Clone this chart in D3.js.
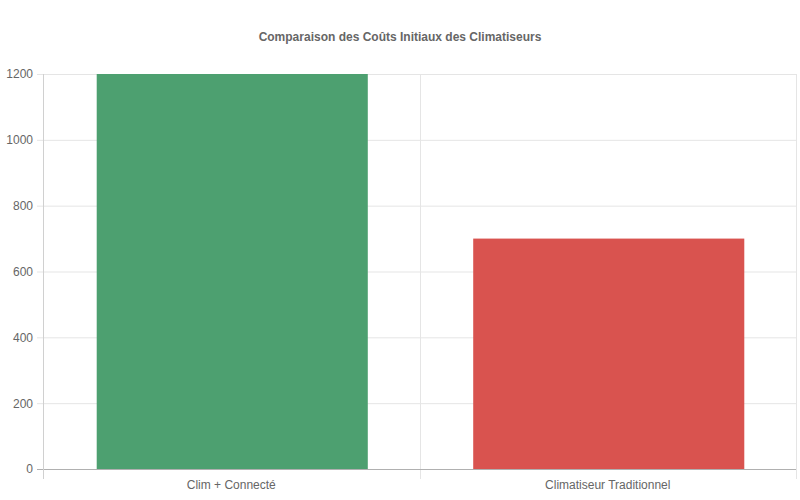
<!DOCTYPE html>
<meta charset="utf-8">
<style>
  body { margin: 0; background: #fff; font-family: "Liberation Sans", Arial, sans-serif; }
  .grid line { stroke: #e5e5e5; stroke-width: 1; }
  .axis text { fill: #666; font-size: 12px; }
  path.domain { display: none; }
</style>
<body>
<script src="https://cdnjs.cloudflare.com/ajax/libs/d3/7.8.5/d3.min.js"></script>
<script>

var categories = ["Clim + Connecté", "Climatiseur Traditionnel"];
var costs = [1200, 700];
var barColors = ["#4da070", "#d9534f"];
var yTicks = [0, 200, 400, 600, 800, 1000, 1200];

var margin = {top: 74, right: 4, bottom: 31, left: 43};
var W = 800, H = 500;
var w = W - margin.left - margin.right,
    h = H - margin.top - margin.bottom;

var svg = d3.select("body").append("svg")
    .attr("width", W)
    .attr("height", H);

svg.append("text")
    .attr("x", W / 2)
    .attr("y", 41)
    .attr("text-anchor", "middle")
    .style("font-size", "12px")
    .style("font-weight", "bold")
    .style("fill", "#666")
    .text("Comparaison des Coûts Initiaux des Climatiseurs");

var g = svg.append("g")
    .attr("transform", "translate(" + margin.left + "," + margin.top + ")");

var x = d3.scaleBand()
    .domain(categories)
    .range([0, w])
    .paddingInner(0.28)
    .paddingOuter(0.14);

var xEdge = d3.scaleLinear().domain([0, categories.length]).range([0, w]);

var y = d3.scaleLinear()
    .domain([0, 1200])
    .range([h, 0]);

// horizontal grid + ticks
var yAxis = g.append("g").attr("class", "axis grid")
    .call(d3.axisLeft(y).tickValues(yTicks).tickFormat(d3.format("d")).tickSize(6).tickPadding(4));
yAxis.selectAll("line").attr("x2", w).attr("x1", -6);

// vertical grid lines at category edges
g.append("g").attr("class", "grid")
    .selectAll("line")
    .data(d3.range(categories.length + 1))
    .enter().append("line")
    .attr("x1", function(d) { return Math.round(xEdge(d)) + 0.5; })
    .attr("x2", function(d) { return Math.round(xEdge(d)) + 0.5; })
    .attr("y1", 0)
    .attr("y2", h + 10);

g.selectAll("rect.bar")
    .data(costs)
    .enter().append("rect")
    .attr("class", "bar")
    .attr("x", function(d, i) { return x(categories[i]) + 1; })
    .attr("width", x.bandwidth())
    .attr("y", function(d) { return y(d); })
    .attr("height", function(d) { return h - y(d); })
    .attr("fill", function(d, i) { return barColors[i]; });

// zero line
g.append("line")
    .attr("x1", -6).attr("x2", w)
    .attr("y1", y(0) + 0.5).attr("y2", y(0) + 0.5)
    .attr("stroke", "#b0b0b0");

// y axis line
g.append("line")
    .attr("x1", 0.5).attr("x2", 0.5)
    .attr("y1", 0).attr("y2", h + 10)
    .attr("stroke", "#d0d0d0");

var xAxis = g.append("g").attr("class", "axis")
    .attr("transform", "translate(0," + h + ")")
    .call(d3.axisBottom(x).tickSize(0).tickPadding(11));
xAxis.selectAll("line").remove();

</script>
</body>
